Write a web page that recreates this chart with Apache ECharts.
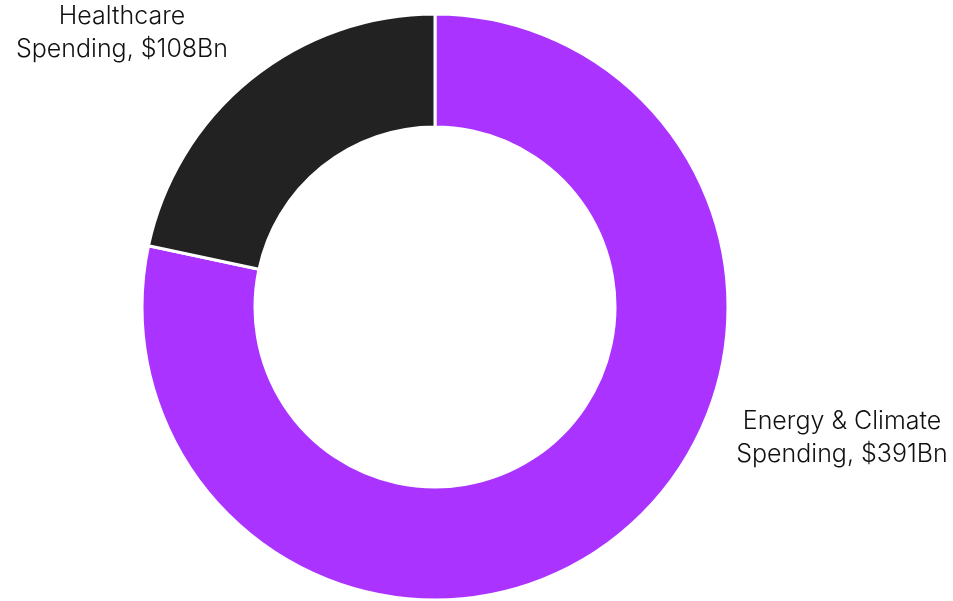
<!DOCTYPE html>
<html>
<head>
<meta charset="utf-8">
<script src="https://cdn.jsdelivr.net/npm/echarts@6/dist/echarts.min.js"></script>
<style>
  html, body { margin: 0; padding: 0; background: #ffffff; }
  #chart { width: 953px; height: 601px; }
</style>
</head>
<body>
<div id="chart"></div>
<script>
// Spending categories and amounts (billions of dollars)
const categories = ['Energy & Climate\nSpending', 'Healthcare\nSpending'];
const amounts = [391, 108];
const colors = ['#AA33FF', '#222222'];

// Label anchor points for each slice (pixels)
const labelAnchors = [
  { x: 842, y: 438 },
  { x: 122, y: 33 }
];

const chart = echarts.init(document.getElementById('chart'), null, { renderer: 'canvas' });

chart.setOption({
  animation: false,
  backgroundColor: '#ffffff',
  series: [{
    type: 'pie',
    center: [435, 307],
    radius: [180, 293],
    startAngle: 90,
    clockwise: true,
    avoidLabelOverlap: false,
    itemStyle: { borderColor: '#ffffff', borderWidth: 3 },
    label: {
      show: true,
      position: 'outside',
      formatter: p => p.name + ', $' + p.value + 'Bn',
      fontFamily: 'Inter',
      fontSize: 25,
      fontWeight: 300,
      lineHeight: 33,
      color: '#111111',
      align: 'center'
    },
    labelLine: { show: false },
    labelLayout: params => {
      const a = labelAnchors[params.dataIndex];
      return { x: a.x, y: a.y, align: 'center', verticalAlign: 'middle' };
    },
    data: categories.map((name, i) => ({
      name,
      value: amounts[i],
      itemStyle: { color: colors[i] }
    }))
  }]
});
</script>
</body>
</html>
